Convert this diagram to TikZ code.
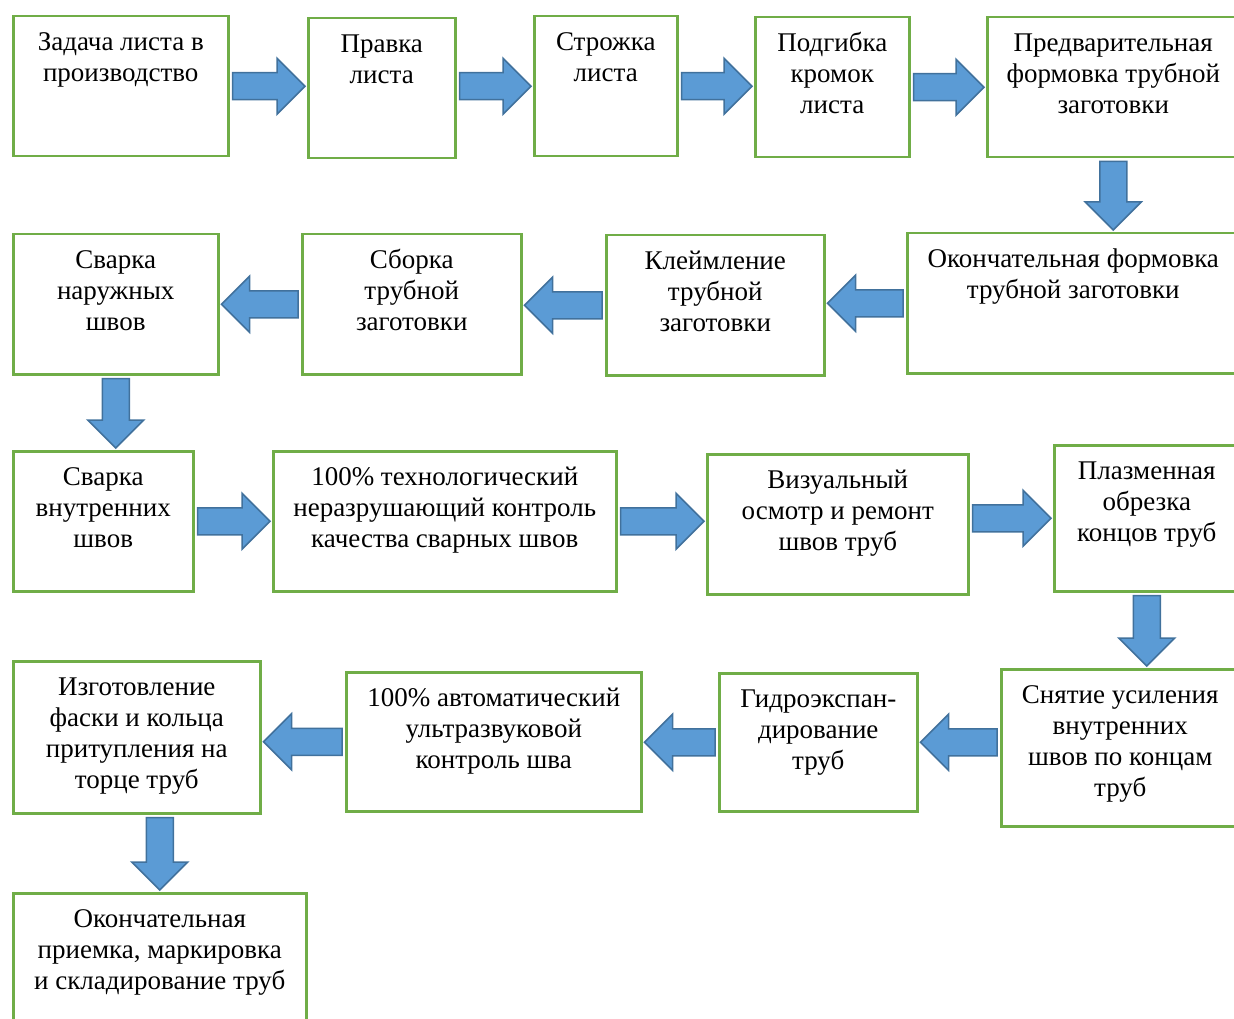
\documentclass[tikz,border=0pt]{standalone}
\usepackage{fontspec}
\setmainfont{Liberation Serif}
\usepackage{tikz}
\usetikzlibrary{calc}
\definecolor{boxgreen}{RGB}{112,173,71}
\definecolor{arrowblue}{RGB}{91,155,213}
\definecolor{arrowedge}{RGB}{65,113,156}
\tikzstyle{procbox} = [draw=boxgreen, line width=2.5pt, anchor=north west, inner sep=0pt, font=\fontsize{27}{31}\selectfont]
\tikzstyle{barrow} = [fill=arrowblue, draw=arrowedge, line width=1.5pt, line join=miter,
  to path={($(\tikztostart)!3pt!(\tikztotarget)!13.5pt!90:(\tikztotarget)$)
    -- ($(\tikztotarget)!30pt!(\tikztostart)!13.5pt!-90:(\tikztostart)$)
    -- ($(\tikztotarget)!30pt!(\tikztostart)!28pt!-90:(\tikztostart)$)
    -- ($(\tikztotarget)!2pt!(\tikztostart)$)
    -- ($(\tikztotarget)!30pt!(\tikztostart)!28pt!90:(\tikztostart)$)
    -- ($(\tikztotarget)!30pt!(\tikztostart)!13.5pt!90:(\tikztostart)$)
    -- ($(\tikztostart)!3pt!(\tikztotarget)!13.5pt!-90:(\tikztotarget)$) -- cycle}]
% box with text at the top
\newcommand{\procnode}[5]{%
  \node[procbox, minimum width=#3pt, minimum height=#4pt] (#1) at (#2)
    {\parbox[c][#4pt][t]{#3pt}{\centering\rule{0pt}{34pt}#5}};}

\begin{document}
\begin{tikzpicture}[x=1pt, y=-1pt]
\useasboundingbox (0,0) rectangle (1234,1019);

% Row 1
\procnode{b1}{12,15}{215}{140}{Задача листа в\\производство}
\procnode{b2}{307,17}{147}{140}{Правка\\листа}
\procnode{b3}{533,15}{143}{140}{Строжка\\листа}
\procnode{b4}{754,16}{154}{140}{Подгибка\\кромок\\листа}
\procnode{b5}{986,16}{252}{140}{Предварительная\\формовка трубной\\заготовки}

% Row 2
\procnode{b6}{906,232}{332}{140}{Окончательная формовка\\трубной заготовки}
\procnode{b7}{605,234}{218}{140}{Клеймление\\трубной\\заготовки}
\procnode{b8}{301,233}{219}{140}{Сборка\\трубной\\заготовки}
\procnode{b9}{12,233}{205}{140}{Сварка\\наружных\\швов}

% Row 3
\procnode{b10}{12,450}{180}{140}{Сварка\\внутренних\\швов}
\procnode{b11}{272,450}{343}{140}{100\% технологический\\неразрушающий контроль\\качества сварных швов}
\procnode{b12}{706,453}{261}{140}{Визуальный\\осмотр и ремонт\\швов труб}
\procnode{b13}{1053,444}{185}{146}{Плазменная\\обрезка\\концов труб}

% Row 4
\procnode{b14}{1000,668}{238}{157}{Снятие усиления\\внутренних\\швов по концам\\труб}
\procnode{b15}{718,672}{198}{138}{Гидроэкспан-\\дирование\\труб}
\procnode{b16}{345,671}{295}{139}{100\% автоматический\\ультразвуковой\\контроль шва}
\procnode{b17}{12,660}{247}{152}{Изготовление\\фаски и кольца\\притупления на\\торце труб}

% Row 5
\procnode{b18}{12,892}{293}{140}{Окончательная\\приемка, маркировка\\и складирование труб}

% Arrows
\draw[barrow] (b1.east) to (b1.east -| b2.west);
\draw[barrow] (b3.west -| b2.east) to (b3.west);
\draw[barrow] (b3.east) to (b3.east -| b4.west);
\draw[barrow] (b4.east) to (b4.east -| b5.west);
\draw[barrow] (b5.south) to (b5.south |- b6.north);
\draw[barrow] (b6.west) to (b6.west -| b7.east);
\draw[barrow] (b7.west) to (b7.west -| b8.east);
\draw[barrow] (b8.west) to (b8.west -| b9.east);
\draw[barrow] (b9.south) to (b9.south |- b10.north);
\draw[barrow] (b10.east) to (b10.east -| b11.west);
\draw[barrow] (b11.east) to (b11.east -| b12.west);
\draw[barrow] (b13.west -| b12.east) to (b13.west);
\draw[barrow] (b13.south) to (b13.south |- b14.north);
\draw[barrow] (b15.east -| b14.west) to (b15.east);
\draw[barrow] (b15.west) to (b15.west -| b16.east);
\draw[barrow] (b16.west) to (b16.west -| b17.east);
\draw[barrow] (b18.north |- b17.south) to (b18.north);
\end{tikzpicture}
\end{document}
